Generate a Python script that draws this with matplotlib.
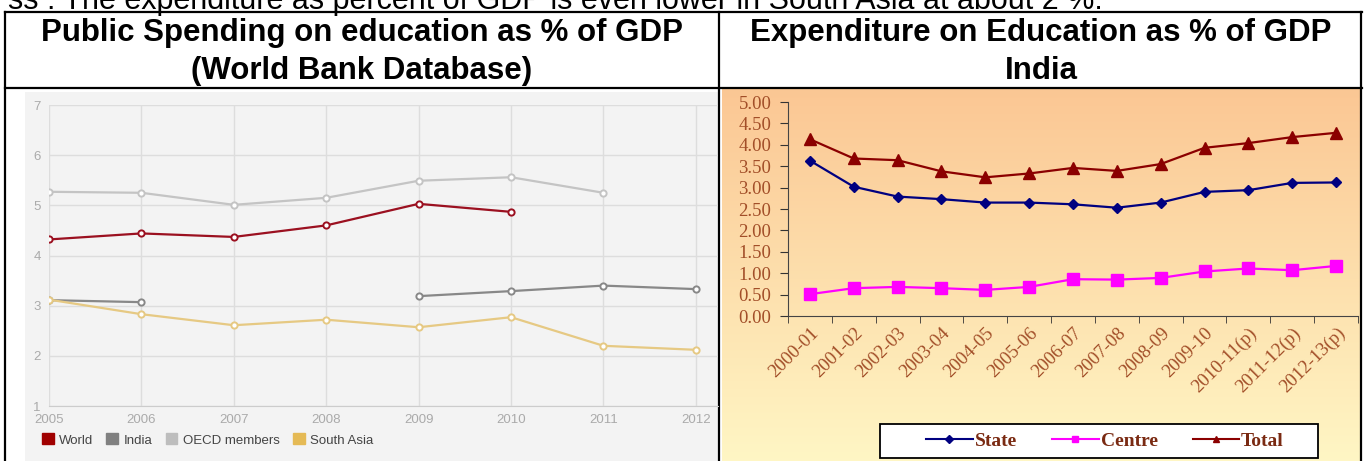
import numpy as np
import matplotlib
matplotlib.use("Agg")
import matplotlib.pyplot as plt
from matplotlib.patches import Rectangle, Patch
from matplotlib.lines import Line2D

# Left chart: World Bank data
years = [2005, 2006, 2007, 2008, 2009, 2010, 2011, 2012]
world = [4.32, 4.44, 4.37, 4.60, 5.03, 4.87, np.nan, np.nan]
india = [3.11, 3.07, np.nan, np.nan, 3.19, 3.29, 3.40, 3.33]
oecd = [5.27, 5.25, 5.01, 5.15, 5.49, 5.56, 5.25, np.nan]
south_asia = [3.12, 2.83, 2.61, 2.72, 2.57, 2.77, 2.20, 2.12]

# Right chart: India expenditure
periods = ["2000-01", "2001-02", "2002-03", "2003-04", "2004-05", "2005-06",
           "2006-07", "2007-08", "2008-09", "2009-10", "2010-11(p)",
           "2011-12(p)", "2012-13(p)"]
state = [3.63, 3.02, 2.79, 2.73, 2.65, 2.65, 2.61, 2.53, 2.65, 2.90, 2.94, 3.11, 3.12]
centre = [0.51, 0.65, 0.68, 0.65, 0.61, 0.68, 0.86, 0.85, 0.89, 1.04, 1.11, 1.07, 1.17]
total = [4.13, 3.68, 3.64, 3.38, 3.24, 3.33, 3.46, 3.39, 3.55, 3.93, 4.04, 4.18, 4.28]

W, H = 1366, 461


def box(x0, y0, x1, y1):
    return [x0 / W, 1 - y1 / H, (x1 - x0) / W, (y1 - y0) / H]


fig = plt.figure(figsize=(W / 100, H / 100), dpi=100)
fig.patch.set_facecolor("white")

# background layer: table lines, panels
bg = fig.add_axes([0, 0, 1, 1], zorder=0)
bg.set_xlim(0, W)
bg.set_ylim(H, 0)
bg.axis("off")
bg.add_patch(Rectangle((25, 92), 693, 380, facecolor="#f3f3f3", edgecolor="none"))
grad = np.linspace(0, 1, 256)[:, None]
cols = np.array([0.984, 0.78, 0.58]) * (1 - grad[..., None]) + \
    np.array([1.0, 0.965, 0.77]) * grad[..., None]
bg.imshow(cols, extent=(722, 1360, H, 90), aspect="auto", zorder=1)
lw = 1.6
bg.plot([5, 1362], [12, 12], color="black", lw=lw, zorder=3)
bg.plot([5, 1362], [88, 88], color="black", lw=lw, zorder=3)
bg.plot([5, 5], [12, H], color="black", lw=lw, zorder=3)
bg.plot([719, 719], [12, H], color="black", lw=lw, zorder=3)
bg.plot([1361, 1361], [12, H], color="black", lw=lw, zorder=3)
bg.add_patch(Rectangle((880, 424), 438, 34, facecolor="white", edgecolor="black",
                       lw=1.3, zorder=4))

hdr = dict(fontsize=22.5, family="Liberation Sans", ha="center", va="baseline")
fig.text(8 / W, 1 - 9 / H,
         "ss . The expenditure as percent of GDP is even lower in South Asia at about 2 %.",
         fontsize=22, family="Liberation Sans", va="baseline", ha="left")
fig.text(362 / W, 1 - 41 / H, "Public Spending on education as % of GDP", weight="bold", **hdr)
fig.text(362 / W, 1 - 79 / H, "(World Bank Database)", weight="bold", **hdr)
fig.text(1041 / W, 1 - 41 / H, "Expenditure on Education as % of GDP", weight="bold", **hdr)
fig.text(1041 / W, 1 - 79 / H, "India", weight="bold", **hdr)

# left chart
ax1 = fig.add_axes(box(49, 105, 718, 406), zorder=2)
ax1.set_facecolor("none")
ax1.set_xlim(2005, 2012.24)
ax1.set_ylim(1, 7)
ax1.set_xticks(years)
ax1.set_yticks(range(1, 8))
ax1.grid(True, color="#dddddd", lw=1)
for s in ax1.spines.values():
    s.set_visible(False)
ax1.spines["bottom"].set_visible(True)
ax1.spines["bottom"].set_color("#cccccc")
ax1.tick_params(length=0, labelsize=9.5, labelcolor="#aaaaaa", pad=6)
for lab in ax1.get_xticklabels() + ax1.get_yticklabels():
    lab.set_family("Liberation Sans")

series = [(world, "#9b1020", "World", "#a00000"),
          (india, "#888888", "India", "#808080"),
          (oecd, "#c4c4c4", "OECD members", "#bdbdbd"),
          (south_asia, "#e6c983", "South Asia", "#e5ba55")]
for vals, c, name, pc in series:
    ax1.plot(years, vals, color=c, lw=1.6, marker="o", ms=4.5, mfc="white",
             mec=c, mew=1.4)
handles = [Patch(facecolor=pc, edgecolor=pc, label=name) for _, _, name, pc in series]
leg1 = fig.legend(handles=handles, loc="center left", bbox_to_anchor=(30 / W, 1 - 440 / H),
                  ncol=4, frameon=False, handlelength=0.9, handleheight=0.9,
                  handletextpad=0.4, columnspacing=1.0,
                  prop={"family": "Liberation Sans", "size": 9.5})
for t in leg1.get_texts():
    t.set_color("#444444")

# right chart
brown = "#a24e28"
ax2 = fig.add_axes(box(788, 102, 1358, 316), zorder=2)
ax2.set_facecolor("none")
x = np.arange(len(periods))
ax2.plot(x, state, color="#000080", lw=1.6, marker="D", ms=5.5, mec="#000080")
ax2.plot(x, centre, color="#ff00ff", lw=1.6, marker="s", ms=8, mec="#ff00ff")
ax2.plot(x, total, color="#8b0000", lw=1.6, marker="^", ms=8, mec="#8b0000")
ax2.set_xlim(-0.5, len(periods) - 0.5)
ax2.set_ylim(0, 5)
ax2.set_yticks(np.arange(0, 5.01, 0.5))
ax2.set_yticklabels(["%.2f" % v for v in np.arange(0, 5.01, 0.5)])
ax2.set_xticks(x)
ax2.set_xticklabels(periods, rotation=45, ha="right", rotation_mode="anchor")
ax2.set_xticks(np.arange(-0.5, len(periods)), minor=True)
ax2.spines["top"].set_visible(False)
ax2.spines["right"].set_visible(False)
ax2.spines["left"].set_color("#444444")
ax2.spines["bottom"].set_color("#444444")
ax2.tick_params(axis="x", which="major", length=0, pad=6)
ax2.tick_params(axis="x", which="minor", length=5, color="#333333")
ax2.tick_params(axis="y", length=6, color="#333333", pad=6)
for lab in ax2.get_xticklabels() + ax2.get_yticklabels():
    lab.set_family("Liberation Serif")
    lab.set_color(brown)
    lab.set_fontsize(13.5)

handles2 = [Line2D([], [], color="#000080", marker="D", ms=4, lw=1.5, label="State"),
            Line2D([], [], color="#ff00ff", marker="s", ms=5, lw=1.5, label="Centre"),
            Line2D([], [], color="#8b0000", marker="^", ms=5, lw=1.5, label="Total")]
leg2 = fig.legend(handles=handles2, loc="center", bbox_to_anchor=(1105 / W, 1 - 441 / H),
                  ncol=3, frameon=False, handlelength=2.4, handletextpad=0.1,
                  columnspacing=1.8,
                  prop={"family": "Liberation Serif", "size": 14, "weight": "bold"})
leg2.set_zorder(5)
for t in leg2.get_texts():
    t.set_color("#7a2a12")

fig.savefig("out.png", dpi=100)
